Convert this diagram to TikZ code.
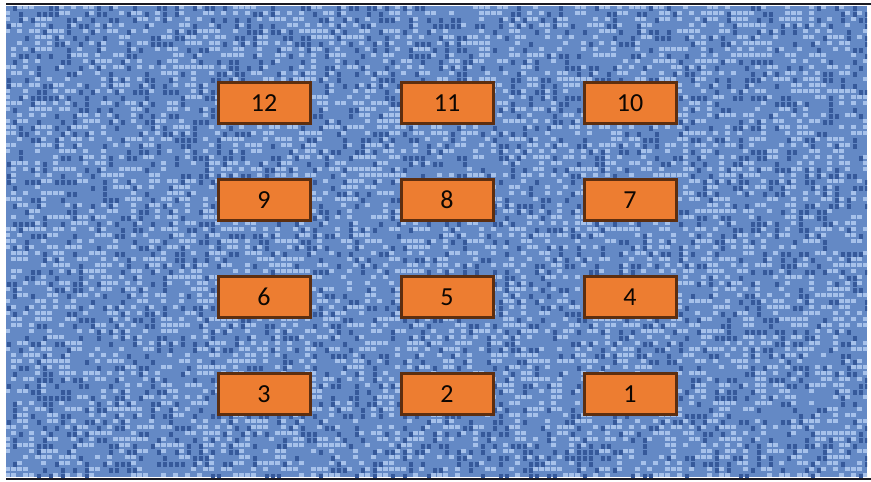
\documentclass[tikz,border=0pt]{standalone}
\usepackage{fontspec}
\setmainfont{Carlito}
\definecolor{bgbase}{HTML}{6489C5}
\definecolor{bglight}{HTML}{A6C1EA}
\definecolor{bgdark}{HTML}{36599A}
\definecolor{boxfill}{HTML}{ED7D31}
\definecolor{boxline}{HTML}{5C2E10}
\definecolor{frameline}{HTML}{1A1A22}
\tikzset{
  numbox/.style={draw=boxline, fill=boxfill, line width=3pt,
    minimum width=92pt, minimum height=41pt, inner sep=0pt,
    font=\fontsize{26}{26}\selectfont, text=black!85!boxline},
}
\begin{document}
\begin{tikzpicture}[x=1pt,y=-1pt]
\useasboundingbox (0,0) rectangle (871,482);
\fill[white] (0,0) rectangle (871,482);
% textured background
\fill[bgbase] (6,6) rectangle (867,477);
\pgfmathsetseed{7}
\begin{scope}
\clip (6,6) rectangle (867,477);
\foreach \i in {0,...,143}{
  \foreach \j in {0,...,78}{
    \pgfmathsetmacro{\r}{rnd}
    \ifdim\r pt<0.36pt
      \fill[bglight] (5+6*\i,5+6*\j) rectangle ++(5,4);
    \else\ifdim\r pt<0.58pt
      \fill[bgdark] (7+6*\i,6+6*\j) rectangle ++(4,5);
    \fi\fi
  }
}
\end{scope}
\draw[frameline,line width=2.5pt] (6,4) -- (871,4);
\draw[frameline,line width=2.5pt] (6,479) -- (871,479);
% boxes
\node[numbox] (n12) at (264,103) {12};
\node[numbox] (n11) at (447,103) {11};
\node[numbox] (n10) at (630,103) {10};
\node[numbox] (n9) at (264,200) {9};
\node[numbox] (n8) at (447,200) {8};
\node[numbox] (n7) at (630,200) {7};
\node[numbox] (n6) at (264,297) {6};
\node[numbox] (n5) at (447,297) {5};
\node[numbox] (n4) at (630,297) {4};
\node[numbox] (n3) at (264,394) {3};
\node[numbox] (n2) at (447,394) {2};
\node[numbox] (n1) at (630,394) {1};
\end{tikzpicture}
\end{document}
